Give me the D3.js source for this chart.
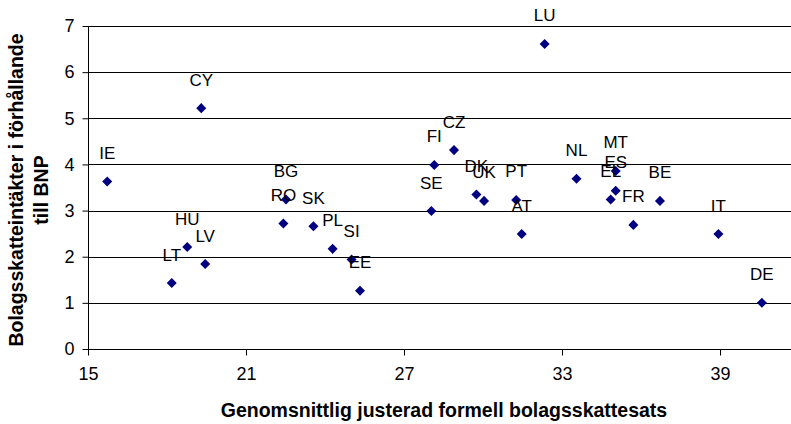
<!DOCTYPE html>
<html>
<head>
<meta charset="utf-8">
<script src="https://cdn.jsdelivr.net/npm/d3@7"></script>
<style>
  html, body { margin: 0; padding: 0; background: #fff; }
  svg { display: block; font-family: "Liberation Sans", Arial, sans-serif; }
</style>
</head>
<body>
<svg id="chart" width="791" height="424"></svg>
<script>
// Data
const countries = ["IE","CY","BG","RO","SK","PL","SI","EE","LT","HU","LV","LU","CZ","FI","SE","DK","UK","PT","AT","NL","MT","ES","EL","FR","BE","IT","DE"];
const taxRates  = [15.73,19.30,22.52,22.42,23.56,24.29,25.01,25.33,18.18,18.77,19.45,32.34,28.90,28.15,28.04,29.75,30.04,31.26,31.47,33.55,35.04,35.04,34.85,35.71,36.72,38.94,40.59];
const revenues  = [3.63,5.22,3.24,2.72,2.66,2.17,1.94,1.26,1.43,2.21,1.84,6.61,4.31,3.99,2.99,3.35,3.21,3.23,2.49,3.69,3.86,3.43,3.24,2.69,3.21,2.49,1.00];
const xTicks = [15, 21, 27, 33, 39];
const yTicks = [0, 1, 2, 3, 4, 5, 6, 7];
const xTitle = "Genomsnittlig justerad formell bolagsskattesats";
const yTitleLines = ["Bolagsskatteintäkter i förhållande", "till BNP"];

const svg = d3.select("#chart");
const x = d3.scaleLinear().domain([15, 42]).range([88, 88 + 158 / 6 * 27]);
const y = d3.scaleLinear().domain([0, 7]).range([349, 26]);

// gridlines
svg.append("g").selectAll("line").data(yTicks.filter(d => d > 0)).join("line")
  .attr("x1", 88).attr("x2", 791)
  .attr("y1", d => Math.round(y(d)) + 0.5).attr("y2", d => Math.round(y(d)) + 0.5)
  .attr("stroke", "#000").attr("stroke-width", 1);

// y axis
const yAxis = d3.axisLeft(y).tickValues(yTicks).tickSize(6).tickPadding(8).tickFormat(d3.format("d"));
svg.append("g").attr("transform", "translate(88.5,0)").call(yAxis)
  .call(g => g.select(".domain").attr("stroke", "#000").attr("d", `M0,${y(7)}V${y(0)}`))
  .call(g => g.selectAll(".tick line").attr("stroke", "#000"))
  .call(g => g.selectAll(".tick text").attr("font-size", 18).attr("fill", "#000").attr("font-family", "Liberation Sans, Arial, sans-serif"));

// x axis
const xAxis = d3.axisBottom(x).tickValues(xTicks).tickSize(6).tickPadding(12).tickFormat(d3.format("d"));
svg.append("g").attr("transform", `translate(0,${Math.round(y(0)) + 0.5})`).call(xAxis)
  .call(g => g.select(".domain").attr("stroke", "#000").attr("d", `M88,0H791`))
  .call(g => g.selectAll(".tick line").attr("stroke", "#000"))
  .call(g => g.selectAll(".tick text").attr("font-size", 18).attr("fill", "#000").attr("font-family", "Liberation Sans, Arial, sans-serif"));

// points
const sym = d3.symbol().type(d3.symbolDiamond2).size(64);
svg.append("g").selectAll("path").data(countries).join("path")
  .attr("d", sym)
  .attr("transform", (d, i) => `translate(${x(taxRates[i])},${y(revenues[i])})`)
  .attr("fill", "#000080");

// labels
svg.append("g").selectAll("text").data(countries).join("text")
  .attr("x", (d, i) => x(taxRates[i]))
  .attr("y", (d, i) => y(revenues[i]) - 22.5)
  .attr("text-anchor", "middle")
  .attr("font-size", 17)
  .attr("fill", "#000")
  .text(d => d);

// axis titles
svg.append("text").attr("x", 444).attr("y", 417).attr("text-anchor", "middle")
  .attr("font-size", 19.5).attr("font-weight", "bold").text(xTitle);

const yt = svg.append("text").attr("transform", "translate(0,190) rotate(-90)")
  .attr("text-anchor", "middle").attr("font-size", 19.5).attr("font-weight", "bold");
yTitleLines.forEach((t, i) => {
  yt.append("tspan").attr("x", 0).attr("y", i === 0 ? 23 : 48).text(t);
});
</script>
</body>
</html>
